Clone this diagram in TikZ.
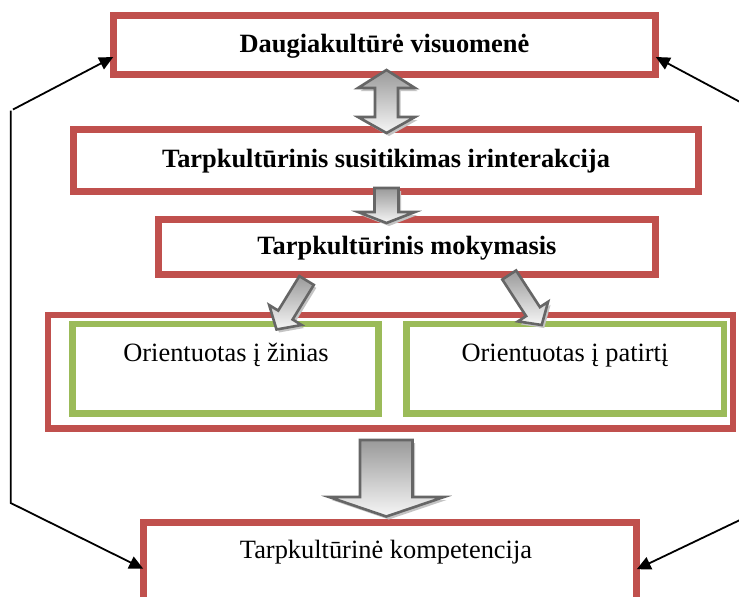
\documentclass[tikz,border=0pt]{standalone}
\usepackage{fontspec}
\setmainfont{Liberation Serif}
\usetikzlibrary{arrows.meta,calc,shadows}
\definecolor{boxred}{HTML}{C0504D}
\definecolor{boxgreen}{HTML}{9BBB59}
\definecolor{arrline}{HTML}{666666}
\definecolor{arrtop}{HTML}{9A9A9A}
\definecolor{arrbot}{HTML}{F6F6F6}
\definecolor{arrshadow}{HTML}{C4C4C4}
\begin{document}
\begin{tikzpicture}[x=1pt,y=-1pt,
  redbox/.style={rectangle, draw=boxred, line width=6.6pt, fill=white, inner sep=0pt, outer sep=0pt},
  greenbox/.style={rectangle, draw=boxgreen, line width=6.6pt, fill=white, inner sep=0pt, outer sep=0pt},
  boldtxt/.style={font=\fontsize{26.4}{30}\selectfont\bfseries, text height=18pt, text depth=3pt},
  plaintxt/.style={font=\fontsize{26.4}{30}\selectfont, inner sep=0pt, anchor=base},
  blockarrow/.style={draw=arrline, line width=2.6pt, line join=miter, top color=arrtop, bottom color=arrbot,
    drop shadow={shadow xshift=2.5pt, shadow yshift=-3pt, fill=arrshadow, opacity=1}},
  conn/.style={draw=black, line width=1.8pt, line join=miter, -{Triangle[length=14pt,width=13pt]}}]
\useasboundingbox (0,0) rectangle (739,597);
\clip (0,0) rectangle (739,597);
\fill[white] (0,0) rectangle (739,597);

% boxes
\node[redbox, boldtxt, minimum width=542.5pt, minimum height=59pt] (top) at (384.5,45) {Daugiakultūrė visuomenė};
\node[redbox, boldtxt, minimum width=625.5pt, minimum height=62pt] (inter) at (386,160.2) {Tarpkultūrinis susitikimas irinterakcija};
\node[redbox, boldtxt, minimum width=497.5pt, minimum height=55.5pt] (learn) at (407,247) {Tarpkultūrinis mokymasis};
\node[redbox, minimum width=685pt, minimum height=113.7pt] (orient) at (390.5,371.9) {};
\node[greenbox, minimum width=306pt, minimum height=89.7pt] (know) at (225.5,368.85) {};
\node[greenbox, minimum width=317.5pt, minimum height=89.7pt] (exper) at (565.25,368.85) {};
\node[redbox, minimum width=493.5pt, minimum height=77.5pt] (comp) at (390,561.25) {};

\node[plaintxt] (knowt) at (226,361.7) {Orientuotas į žinias};
\node[plaintxt] (expert) at (565,361.7) {Orientuotas į patirtį};
\node[plaintxt] (compt) at (386,558.5) {Tarpkultūrinė kompetencija};

% block arrows
\path[blockarrow] (386.5,70) -- (415,88) -- (398,88) -- (398,117) -- (415,117) -- (386.5,133)
  -- (358,117) -- (375,117) -- (375,88) -- (358,88) -- cycle;
\path[blockarrow] (374.5,188) -- (398.5,188) -- (398.5,212) -- (415,212) -- (386.5,223)
  -- (358,212) -- (374.5,212) -- cycle;
\path[blockarrow] (299.4,276.1) -- (313.8,284.9) -- (292.6,319.5) -- (301.6,325) -- (276.5,329.5)
  -- (269.2,305.1) -- (278.2,310.6) -- cycle;
\path[blockarrow] (502.3,279.5) -- (516.1,270.5) -- (539.9,307.1) -- (548.1,301.8) -- (541.7,325)
  -- (517.9,321.4) -- (526.1,316.1) -- cycle;
\path[blockarrow] (360,440) -- (412.5,440) -- (412.5,497) -- (444,497) -- (386.3,516.5)
  -- (329,497) -- (360,497) -- cycle;

% feedback connectors
\coordinate (l1) at (13,109.5);
\coordinate (l2) at (10.7,110.5);
\coordinate (l3) at (10.7,503);
\coordinate (r1) at (741,102.5);
\coordinate (r2) at (741,519.5);
\draw[conn] (l1) -- ([yshift=-12pt]top.west);
\draw[conn] (l2) -- (l3) -- ([yshift=-7.5pt]comp.west);
\draw[conn] (r1) -- ([yshift=-12pt]top.east);
\draw[conn] (r2) -- ([yshift=-8pt]comp.east);
\end{tikzpicture}
\end{document}
